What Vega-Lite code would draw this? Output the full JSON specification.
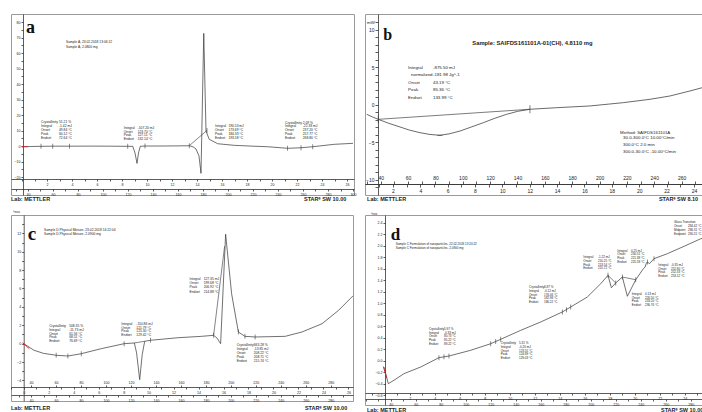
{
"$schema":"https://vega.github.io/schema/vega-lite/v6.json",
"padding":{"left":10,"top":13,"right":0,"bottom":0},
"background":"white",
"config":{"view":{"stroke":"#9a9a9a","strokeWidth":1},"font":"Liberation Sans",
"axis":{"labelFont":"Liberation Sans","labelFontSize":3.6,"labelColor":"#222","tickColor":"#333","domainColor":"#333","tickSize":2,"labelPadding":1,"grid":false,"domainWidth":0.8,"tickWidth":0.8,"labelOverlap":false,"labelFlush":false}},
"datasets":{
"a_curve":[{"T":35.0,"v":-0.45},{"T":42,"v":-0.3},{"T":50.4,"v":-0.19},{"T":60,"v":-0.1},{"T":74.4,"v":-0.1},{"T":90,"v":-0.05},{"T":105,"v":-0.1},{"T":119.8,"v":-0.19},{"T":123.8,"v":-0.19},{"T":125.6,"v":-4.5},{"T":127.2,"v":-11.2},{"T":128.4,"v":-4.5},{"T":129.8,"v":-0.19},{"T":133.6,"v":0},{"T":146.4,"v":0},{"T":160,"v":0.1},{"T":169.0,"v":0.19},{"T":172,"v":-0.5},{"T":174.4,"v":-1.94},{"T":176.8,"v":-6.45},{"T":178.4,"v":-17.6},{"T":180.6,"v":72.7},{"T":182.4,"v":9.68},{"T":185.0,"v":4.32},{"T":191.8,"v":1.48},{"T":205.0,"v":0.45},{"T":220,"v":-0.1},{"T":231.8,"v":-0.45},{"T":247.8,"v":-1.48},{"T":258.4,"v":-1.1},{"T":267.8,"v":-0.45},{"T":285.0,"v":1.1},{"T":300.0,"v":1.74}],
"a_red":[{"T":35.0,"v":-0.45},{"T":39.8,"v":-0.4}],
"a_base":[{"g":1,"T":169.0,"v":0.19},{"g":1,"T":183.2,"v":10.1}],
"a_ticks":[{"T":50.4,"v":-0.19},{"T":59.8,"v":-0.1},{"T":73.2,"v":-0.1},{"T":119.8,"v":-0.19},{"T":133.6,"v":0},{"T":169,"v":0.19},{"T":183.2,"v":10.1},{"T":247.7,"v":-1.45},{"T":258.4,"v":-1.1},{"T":267.8,"v":-0.45}],
"a_text":[{"T":70.4,"v":67.1,"s":"Sample A, 23.02.2018 13:06:12"},{"T":70.4,"v":64.2,"s":"Sample A, 2.0800 mg"},
{"T":50.4,"v":15.68,"s":"Crystallinity"},{"T":64.8,"v":15.68,"s":"51.21 %"},{"T":50.4,"v":12.9,"s":"Integral"},{"T":64.8,"v":12.9,"s":"-1.42 mJ"},{"T":50.4,"v":10.52,"s":"Onset"},{"T":64.8,"v":10.52,"s":"49.84 °C"},{"T":50.4,"v":7.94,"s":"Peak"},{"T":64.8,"v":7.94,"s":"60.12 °C"},{"T":50.4,"v":5.35,"s":"Endset"},{"T":64.8,"v":5.35,"s":"72.64 °C"},
{"T":116.6,"v":11.8,"s":"Integral"},{"T":127.7,"v":11.8,"s":"-107.20 mJ"},{"T":116.6,"v":9.2,"s":"Onset"},{"T":127.7,"v":9.2,"s":"123.70 °C"},{"T":116.6,"v":6.9,"s":"Peak"},{"T":127.7,"v":6.9,"s":"127.11 °C"},{"T":116.6,"v":4.3,"s":"Endset"},{"T":127.7,"v":4.3,"s":"132.14 °C"},
{"T":189.6,"v":12.9,"s":"Integral"},{"T":200.3,"v":12.9,"s":"190.53 mJ"},{"T":189.6,"v":10.5,"s":"Onset"},{"T":200.3,"v":10.5,"s":"173.69 °C"},{"T":189.6,"v":7.9,"s":"Peak"},{"T":200.3,"v":7.9,"s":"184.33 °C"},{"T":189.6,"v":5.4,"s":"Endset"},{"T":200.3,"v":5.4,"s":"193.58 °C"},
{"T":245.6,"v":15.0,"s":"Crystallinity"},{"T":259.8,"v":15.0,"s":"2.09 %"},{"T":245.6,"v":12.7,"s":"Integral"},{"T":259.8,"v":12.7,"s":"-22.33 mJ"},{"T":245.6,"v":10.3,"s":"Onset"},{"T":259.8,"v":10.3,"s":"237.20 °C"},{"T":245.6,"v":7.9,"s":"Peak"},{"T":259.8,"v":7.9,"s":"257.77 °C"},{"T":245.6,"v":5.4,"s":"Endset"},{"T":259.8,"v":5.4,"s":"268.80 °C"}],
"a_foot":[{"T":26.4,"v":-34.2,"s":"Lab: METTLER"},{"T":260.8,"v":-34.2,"s":"STARᵉ SW 10.00"}],
"b_curve":[{"T":29.8,"v":-1.24},{"T":34,"v":-1.6},{"T":38.2,"v":-1.91},{"T":46,"v":-2.45},{"T":54.1,"v":-2.93},{"T":61,"v":-3.35},{"T":68.7,"v":-3.69},{"T":76,"v":-3.93},{"T":83.3,"v":-4.04},{"T":90,"v":-3.85},{"T":98.0,"v":-3.47},{"T":106,"v":-2.95},{"T":115.0,"v":-2.36},{"T":123,"v":-1.8},{"T":132.1,"v":-1.24},{"T":140,"v":-0.85},{"T":149.1,"v":-0.57},{"T":168.7,"v":-0.36},{"T":193,"v":-0.13},{"T":217.3,"v":0.31},{"T":236.9,"v":0.76},{"T":251.5,"v":1.2},{"T":266.1,"v":1.87},{"T":277,"v":2.4}],
"b_base":[{"g":1,"T":38.2,"v":-1.91},{"g":1,"T":149.1,"v":-0.57}],
"b_ticks":[{"T":38.2,"v":-1.91},{"T":149.1,"v":-0.57}],
"b_text":[{"T":60,"v":4.97,"s":"Integral"},{"T":78.2,"v":4.97,"s":"-875.50 mJ"},{"T":62.2,"v":4.0,"s":"normalized"},{"T":78.2,"v":4.0,"s":"-181.98 Jg^-1"},{"T":60,"v":2.97,"s":"Onset"},{"T":78.2,"v":2.97,"s":"43.19 °C"},{"T":60,"v":1.96,"s":"Peak"},{"T":78.2,"v":1.96,"s":"85.36 °C"},{"T":60,"v":0.89,"s":"Endset"},{"T":78.2,"v":0.89,"s":"133.99 °C"},
{"T":215,"v":-3.69,"s":"Method: SAIFDS161101A"},{"T":217.2,"v":-4.44,"s":"30.0-300.0°C 10.00°C/min"},{"T":217.2,"v":-5.33,"s":"300.0°C 2.0 min"},{"T":217.2,"v":-6.23,"s":"300.0-30.0°C -10.00°C/min"},{"T":30,"v":10.9,"s":"mW"}],
"b_foot":[{"T":30,"v":-12.53,"s":"Lab: METTLER"},{"T":243.4,"v":-12.53,"s":"STARᵉ SW 8.10"}],
"c_curve":[{"T":33.3,"v":0.08},{"T":42.4,"v":-0.72},{"T":50,"v":-1.05},{"T":60.1,"v":-1.26},{"T":69.5,"v":-1.34},{"T":80.2,"v":-1.09},{"T":96.2,"v":-0.54},{"T":114.5,"v":0},{"T":122.7,"v":0.08},{"T":124.5,"v":-1.0},{"T":127.0,"v":-3.91},{"T":129,"v":-1.2},{"T":131.0,"v":0.26},{"T":135.6,"v":0.37},{"T":157.8,"v":0.65},{"T":176.5,"v":0.8},{"T":186.2,"v":0.91},{"T":189,"v":0.6},{"T":191.8,"v":0},{"T":195.8,"v":11.9},{"T":200.6,"v":5.43},{"T":206.0,"v":1.27},{"T":211.3,"v":0.8},{"T":219.4,"v":0.73},{"T":243.5,"v":0.8},{"T":256.9,"v":1.27},{"T":273.0,"v":2.17},{"T":286.3,"v":3.63},{"T":297.8,"v":5.2}],
"c_red":[{"T":33.3,"v":0.08},{"T":38.6,"v":-0.54}],
"c_base":[{"g":1,"T":186.2,"v":0.91},{"g":1,"T":195.0,"v":10.6},{"g":2,"T":122.7,"v":0.08},{"g":2,"T":131.0,"v":0.26}],
"c_ticks":[{"T":60.1,"v":-1.26},{"T":69.5,"v":-1.34},{"T":80.2,"v":-1.09},{"T":114.5,"v":0},{"T":135.6,"v":0.37},{"T":186.2,"v":0.91},{"T":206,"v":1.27},{"T":211.3,"v":0.8},{"T":219.4,"v":0.73}],
"c_text":[{"T":25.5,"v":14.3,"s":"^exo"},{"T":50.4,"v":12.39,"s":"Sample D Physical Mixture, 23.02.2018 14:22:04"},{"T":50.4,"v":11.96,"s":"Sample D Physical Mixture, 2.0900 mg"},
{"T":54.5,"v":1.92,"s":"Crystallinity"},{"T":70.5,"v":1.92,"s":"508.35 %"},{"T":54.5,"v":1.51,"s":"Integral"},{"T":70.5,"v":1.51,"s":"-11.73 mJ"},{"T":54.5,"v":1.1,"s":"Onset"},{"T":70.5,"v":1.1,"s":"61.56 °C"},{"T":54.5,"v":0.68,"s":"Peak"},{"T":70.5,"v":0.68,"s":"68.51 °C"},{"T":54.5,"v":0.27,"s":"Endset"},{"T":70.5,"v":0.27,"s":"76.69 °C"},
{"T":112.3,"v":2.17,"s":"Integral"},{"T":124.3,"v":2.17,"s":"-110.86 mJ"},{"T":112.3,"v":1.76,"s":"Onset"},{"T":124.3,"v":1.76,"s":"121.79 °C"},{"T":112.3,"v":1.35,"s":"Peak"},{"T":124.3,"v":1.35,"s":"125.30 °C"},{"T":112.3,"v":0.93,"s":"Endset"},{"T":124.3,"v":0.93,"s":"129.42 °C"},
{"T":166.9,"v":7.07,"s":"Integral"},{"T":178.2,"v":7.07,"s":"127.35 mJ"},{"T":166.9,"v":6.6,"s":"Onset"},{"T":178.2,"v":6.6,"s":"199.68 °C"},{"T":166.9,"v":6.13,"s":"Peak"},{"T":178.2,"v":6.13,"s":"206.92 °C"},{"T":166.9,"v":5.66,"s":"Endset"},{"T":178.2,"v":5.66,"s":"214.88 °C"},
{"T":204.7,"v":-0.14,"s":"Crystallinity"},{"T":218.3,"v":-0.14,"s":"843.28 %"},{"T":204.7,"v":-0.58,"s":"Integral"},{"T":218.3,"v":-0.58,"s":"-13.85 mJ"},{"T":204.7,"v":-1.01,"s":"Onset"},{"T":218.3,"v":-1.01,"s":"208.22 °C"},{"T":204.7,"v":-1.45,"s":"Peak"},{"T":218.3,"v":-1.45,"s":"208.71 °C"},{"T":204.7,"v":-1.88,"s":"Endset"},{"T":218.3,"v":-1.88,"s":"215.74 °C"}],
"c_foot":[{"T":23.94,"v":-6.99,"s":"Lab: METTLER"},{"T":259.3,"v":-6.99,"s":"STARᵉ SW 10.00"}],
"d_curve":[{"T":34.6,"v":-0.108},{"T":38.1,"v":-0.398},{"T":42.6,"v":-0.339},{"T":50.6,"v":-0.224},{"T":64.0,"v":-0.108},{"T":78.6,"v":0.054},{"T":86.6,"v":0.083},{"T":104.0,"v":0.183},{"T":120.0,"v":0.297},{"T":128.0,"v":0.374},{"T":144.0,"v":0.53},{"T":160.0,"v":0.675},{"T":177.3,"v":0.849},{"T":184.0,"v":0.936},{"T":197.3,"v":1.11},{"T":208.0,"v":1.341},{"T":213.8,"v":1.487},{"T":216.5,"v":1.271},{"T":220.0,"v":1.353},{"T":225.3,"v":1.457},{"T":229.3,"v":1.122},{"T":236.0,"v":1.41},{"T":242.1,"v":1.602},{"T":243.5,"v":1.63},{"T":244.5,"v":1.7},{"T":245.3,"v":1.718},{"T":247,"v":1.69},{"T":250.6,"v":1.776},{"T":261.3,"v":1.863},{"T":274.6,"v":1.991},{"T":288.0,"v":2.123},{"T":291.4,"v":2.141}],
"d_red":[{"T":34.1,"v":-0.1},{"T":36.8,"v":-0.3}],
"d_base":[{"g":1,"T":213.8,"v":1.487},{"g":1,"T":220.0,"v":1.353},{"g":2,"T":225.3,"v":1.457},{"g":2,"T":236.0,"v":1.41}],
"d_ticks":[{"T":78.6,"v":0.054},{"T":82.6,"v":0.07},{"T":86.6,"v":0.083},{"T":120,"v":0.297},{"T":124,"v":0.335},{"T":128,"v":0.374},{"T":177.3,"v":0.849},{"T":180.6,"v":0.89},{"T":184,"v":0.936},{"T":213.8,"v":1.487},{"T":220,"v":1.353},{"T":225.3,"v":1.457},{"T":236,"v":1.41},{"T":245.3,"v":1.718},{"T":250.6,"v":1.776}],
"d_text":[{"T":24.2,"v":2.562,"s":"^exo"},{"T":44,"v":2.037,"s":"Sample C Formulation of nanoparticles, 22.02.2018 13:20:22"},{"T":44,"v":1.974,"s":"Sample C Formulation of nanoparticles, 2.0900 mg"},
{"T":70.6,"v":0.558,"s":"Crystallinity"},{"T":82.6,"v":0.558,"s":"5.97 %"},{"T":70.6,"v":0.496,"s":"Integral"},{"T":82.6,"v":0.496,"s":"-0.33 mJ"},{"T":70.6,"v":0.431,"s":"Onset"},{"T":82.6,"v":0.431,"s":"80.73 °C"},{"T":70.6,"v":0.367,"s":"Peak"},{"T":82.6,"v":0.367,"s":"85.22 °C"},{"T":70.6,"v":0.304,"s":"Endset"},{"T":82.6,"v":0.304,"s":"89.22 °C"},
{"T":128,"v":0.31,"s":"Crystallinity"},{"T":142.6,"v":0.31,"s":"5.31 %"},{"T":128,"v":0.245,"s":"Integral"},{"T":142.6,"v":0.245,"s":"-0.20 mJ"},{"T":128,"v":0.181,"s":"Onset"},{"T":142.6,"v":0.181,"s":"123.55 °C"},{"T":128,"v":0.117,"s":"Peak"},{"T":142.6,"v":0.117,"s":"124.89 °C"},{"T":128,"v":0.052,"s":"Endset"},{"T":142.6,"v":0.052,"s":"129.03 °C"},
{"T":150.6,"v":1.283,"s":"Crystallinity"},{"T":162.6,"v":1.283,"s":"6.87 %"},{"T":150.6,"v":1.219,"s":"Integral"},{"T":162.6,"v":1.219,"s":"-0.12 mJ"},{"T":150.6,"v":1.155,"s":"Onset"},{"T":162.6,"v":1.155,"s":"176.06 °C"},{"T":150.6,"v":1.09,"s":"Peak"},{"T":162.6,"v":1.09,"s":"182.98 °C"},{"T":150.6,"v":1.026,"s":"Endset"},{"T":162.6,"v":1.026,"s":"186.22 °C"},
{"T":194.1,"v":1.805,"s":"Integral"},{"T":205.8,"v":1.805,"s":"-1.22 mJ"},{"T":194.1,"v":1.741,"s":"Onset"},{"T":205.8,"v":1.741,"s":"210.25 °C"},{"T":194.1,"v":1.677,"s":"Peak"},{"T":205.8,"v":1.677,"s":"213.54 °C"},{"T":194.1,"v":1.612,"s":"Endset"},{"T":205.8,"v":1.612,"s":"215.72 °C"},
{"T":221.3,"v":1.922,"s":"Integral"},{"T":232.2,"v":1.922,"s":"0.25 mJ"},{"T":221.3,"v":1.857,"s":"Onset"},{"T":232.2,"v":1.857,"s":"230.51 °C"},{"T":221.3,"v":1.793,"s":"Peak"},{"T":232.2,"v":1.793,"s":"221.38 °C"},{"T":221.3,"v":1.729,"s":"Endset"},{"T":232.2,"v":1.729,"s":"225.58 °C"},
{"T":232.8,"v":1.167,"s":"Integral"},{"T":243.4,"v":1.167,"s":"0.13 mJ"},{"T":232.8,"v":1.103,"s":"Onset"},{"T":243.4,"v":1.103,"s":"226.50 °C"},{"T":232.8,"v":1.038,"s":"Peak"},{"T":243.4,"v":1.038,"s":"233.20 °C"},{"T":232.8,"v":0.974,"s":"Endset"},{"T":243.4,"v":0.974,"s":"236.76 °C"},
{"T":254.1,"v":1.675,"s":"Integral"},{"T":264.2,"v":1.675,"s":"-0.35 mJ"},{"T":254.1,"v":1.61,"s":"Onset"},{"T":264.2,"v":1.61,"s":"252.80 °C"},{"T":254.1,"v":1.546,"s":"Peak"},{"T":264.2,"v":1.546,"s":"252.33 °C"},{"T":254.1,"v":1.482,"s":"Endset"},{"T":264.2,"v":1.482,"s":"253.12 °C"},
{"T":266.6,"v":2.423,"s":"Glass Transition"},{"T":266.6,"v":2.353,"s":"Onset"},{"T":277.8,"v":2.353,"s":"284.42 °C"},{"T":266.6,"v":2.283,"s":"Midpoint"},{"T":277.8,"v":2.283,"s":"286.31 °C"},{"T":266.6,"v":2.214,"s":"Endpoint"},{"T":277.8,"v":2.214,"s":"290.15 °C"}],
"d_foot":[{"T":21.04,"v":-0.85,"s":"Lab: METTLER"},{"T":256.2,"v":-0.85,"s":"STARᵉ SW 10.00"}]
},
"columns":2,
"spacing":{"row":20,"column":11},
"bounds":"flush",
"concat":[
 {"width":343,"height":181,
  "encoding":{
    "x":{"field":"T","type":"quantitative","scale":{"domain":[26.4,300.8],"nice":false,"zero":false},"axis":null},
    "y":{"field":"v","type":"quantitative","scale":{"domain":[-31.6,85.2],"nice":false,"zero":false},"axis":{"orient":"left","offset":-12,"title":null,"values":[-20,-15,-10,-5,0,5,10,15,20,25,30,35,40,45,50,55,60,65,70,75,80],"labelExpr":"datum.value % 10 === 0 ? datum.label : ''"}}},
  "layer":[
   {"data":{"name":"a_curve"},"mark":{"type":"line","color":"#333","strokeWidth":0.7},
    "encoding":{"x":{"field":"T","type":"quantitative","scale":{"domain":[26.4,300.8],"nice":false,"zero":false},"axis":{"orient":"bottom","offset":-6,"title":null,"values":[30,40,50,60,70,80,90,100,110,120,130,140,150,160,170,180,190,200,210,220,230,240,250,260,270,280,290,300],"labelExpr":"datum.value % 20 === 0 ? datum.label : ''"}}}},
   {"data":{"name":"a_red"},"mark":{"type":"line","color":"#e02020","strokeWidth":0.9}},
   {"data":{"name":"a_base"},"mark":{"type":"line","color":"#333","strokeWidth":0.6},"encoding":{"detail":{"field":"g"}}},
   {"data":{"name":"a_ticks"},"mark":{"type":"tick","orient":"vertical","color":"#333","size":5,"thickness":0.8}},
   {"data":{"name":"a_text"},"mark":{"type":"text","align":"left","baseline":"middle","fontSize":3.3,"color":"#222"},"encoding":{"text":{"field":"s"}}},
   {"data":{"values":[{"T":38.4,"v":73.1,"s":"a"}]},"mark":{"type":"text","align":"left","baseline":"alphabetic","fontSize":18,"font":"Liberation Serif","fontWeight":"bold","color":"#111"},"encoding":{"text":{"field":"s"}}},
   {"data":{"name":"a_foot"},"mark":{"type":"text","align":"left","baseline":"middle","fontSize":5.5,"fontWeight":"bold","color":"#222"},"encoding":{"text":{"field":"s"}}},
   {"data":{"values":[{"t":0,"v":0}]},"mark":{"type":"point","opacity":0},
    "encoding":{"x":{"field":"t","type":"quantitative","scale":{"domain":[-0.88,26.56],"nice":false,"zero":false},"axis":{"orient":"bottom","offset":-16,"title":null,"values":[0,1,2,3,4,5,6,7,8,9,10,11,12,13,14,15,16,17,18,19,20,21,22,23,24,25,26],"labelExpr":"datum.value % 2 === 0 && datum.value > 0 ? datum.label : ''"}}}}
  ],
  "resolve":{"scale":{"x":"independent"},"axis":{"x":"independent"}}},
 {"width":340,"height":181,
  "encoding":{
    "x":{"field":"T","type":"quantitative","scale":{"domain":[28.5,277.1],"nice":false,"zero":false},"axis":null},
    "y":{"field":"v","type":"quantitative","scale":{"domain":[-12,12.13],"nice":false,"zero":false},"axis":{"orient":"left","offset":-13,"title":null,"labelFontSize":5,"tickSize":3,"values":[-11,-10,-9,-8,-7,-6,-5,-4,-3,-2,-1,0,1,2,3,4,5,6,7,8,9,10,11],"labelExpr":"datum.value % 5 === 0 ? datum.label : ''"}}},
  "layer":[
   {"data":{"name":"b_curve"},"mark":{"type":"line","color":"#444","strokeWidth":0.8},
    "encoding":{"x":{"field":"T","type":"quantitative","scale":{"domain":[28.5,277.1],"nice":false,"zero":false},"axis":{"orient":"top","offset":-170,"title":null,"labelFontSize":5,"tickSize":3,"values":[30,40,50,60,70,80,90,100,110,120,130,140,150,160,170,180,190,200,210,220,230,240,250,260,270],"labelExpr":"datum.value % 20 === 0 ? datum.label : ''"}}}},
   {"data":{"name":"b_base"},"mark":{"type":"line","color":"#444","strokeWidth":0.7},"encoding":{"detail":{"field":"g"}}},
   {"data":{"name":"b_ticks"},"mark":{"type":"tick","orient":"vertical","color":"#333","size":8,"thickness":0.9}},
   {"data":{"values":[{"T":83.3,"v":-4.04}]},"mark":{"type":"tick","orient":"horizontal","color":"#333","size":5,"thickness":0.9}},
   {"data":{"name":"b_text"},"mark":{"type":"text","align":"left","baseline":"middle","fontSize":4.4,"color":"#222"},"encoding":{"text":{"field":"s"}}},
   {"data":{"values":[{"T":150.9,"v":8.31,"s":"Sample: SAIFDS161101A-01(CH), 4.8110 mg"}]},"mark":{"type":"text","align":"center","baseline":"middle","fontSize":5.8,"fontWeight":"bold","color":"#222"},"encoding":{"text":{"field":"s"}}},
   {"data":{"values":[{"T":41.9,"v":8.63,"s":"b"}]},"mark":{"type":"text","align":"left","baseline":"alphabetic","fontSize":16,"font":"Liberation Serif","fontWeight":"bold","color":"#111"},"encoding":{"text":{"field":"s"}}},
   {"data":{"name":"b_foot"},"mark":{"type":"text","align":"left","baseline":"middle","fontSize":5.5,"fontWeight":"bold","color":"#222"},"encoding":{"text":{"field":"s"}}},
   {"data":{"values":[{"t":0,"v":0}]},"mark":{"type":"point","opacity":0},
    "encoding":{"x":{"field":"t","type":"quantitative","scale":{"domain":[-0.04,24.81],"nice":false,"zero":false},"axis":{"orient":"bottom","offset":-11,"title":null,"labelFontSize":5,"tickSize":3,"values":[1,2,3,4,5,6,7,8,9,10,11,12,13,14,15,16,17,18,19,20,21,22,23,24],"labelExpr":"datum.value % 2 === 0 ? datum.label : ''"}}}}
  ],
  "resolve":{"scale":{"x":"independent"},"axis":{"x":"independent"}}},
 {"width":342,"height":186,
  "encoding":{
    "x":{"field":"T","type":"quantitative","scale":{"domain":[23.94,297.8],"nice":false,"zero":false},"axis":null},
    "y":{"field":"v","type":"quantitative","scale":{"domain":[-6.23,13.99],"nice":false,"zero":false},"axis":{"orient":"left","offset":-12.7,"title":null,"values":[-4,-3,-2,-1,0,1,2,3,4,5,6,7,8,9,10,11,12,13],"labelExpr":"datum.value % 2 === 0 ? datum.label : ''"}}},
  "layer":[
   {"data":{"name":"c_curve"},"mark":{"type":"line","color":"#333","strokeWidth":0.7},
    "encoding":{"x":{"field":"T","type":"quantitative","scale":{"domain":[23.94,297.8],"nice":false,"zero":false},"axis":{"orient":"bottom","offset":-6,"title":null,"values":[30,40,50,60,70,80,90,100,110,120,130,140,150,160,170,180,190,200,210,220,230,240,250,260,270,280,290],"labelExpr":"datum.value % 20 === 0 ? datum.label : ''"}}}},
   {"data":{"name":"c_red"},"mark":{"type":"line","color":"#e02020","strokeWidth":0.9}},
   {"data":{"name":"c_base"},"mark":{"type":"line","color":"#333","strokeWidth":0.6},"encoding":{"detail":{"field":"g"}}},
   {"data":{"name":"c_ticks"},"mark":{"type":"tick","orient":"vertical","color":"#333","size":5,"thickness":0.8}},
   {"data":{"name":"c_text"},"mark":{"type":"text","align":"left","baseline":"middle","fontSize":3.3,"color":"#222"},"encoding":{"text":{"field":"s"}}},
   {"data":{"values":[{"T":37.3,"v":11.3,"s":"c"}]},"mark":{"type":"text","align":"left","baseline":"alphabetic","fontSize":19,"font":"Liberation Serif","fontWeight":"bold","color":"#111"},"encoding":{"text":{"field":"s"}}},
   {"data":{"name":"c_foot"},"mark":{"type":"text","align":"left","baseline":"middle","fontSize":5.5,"fontWeight":"bold","color":"#222"},"encoding":{"text":{"field":"s"}}},
   {"data":{"values":[{"t":0,"v":0}]},"mark":{"type":"point","opacity":0},
    "encoding":{"x":{"field":"t","type":"quantitative","scale":{"domain":[-1.02,26.37],"nice":false,"zero":false},"axis":{"orient":"bottom","offset":-14,"title":null,"values":[-1,0,1,2,3,4,5,6,7,8,9,10,11,12,13,14,15,16,17,18,19,20,21,22,23,24,25,26],"labelExpr":"datum.value % 2 === 0 ? datum.label : ''"}}}},
   {"data":{"values":[{"T2":40,"v":0}]},"mark":{"type":"point","opacity":0},
    "encoding":{"x":{"field":"T2","type":"quantitative","scale":{"domain":[23.94,297.8],"nice":false,"zero":false},"axis":{"orient":"top","offset":-172,"title":null,"domain":false,"values":[40,60,80,100,120,140,160,180,200,220,240,260,280]}}}}
  ],
  "resolve":{"scale":{"x":"independent"},"axis":{"x":"independent"}}},
 {"width":340,"height":190,
  "encoding":{
    "x":{"field":"T","type":"quantitative","scale":{"domain":[19.44,291.4],"nice":false,"zero":false},"axis":null},
    "y":{"field":"v","type":"quantitative","scale":{"domain":[-0.769,2.536],"nice":false,"zero":false},"axis":{"orient":"left","offset":-20,"title":null,"format":".1f","values":[-0.6,-0.4,-0.2,0,0.2,0.4,0.6,0.8,1.0,1.2,1.4,1.6,1.8,2.0,2.2,2.4]}}},
  "layer":[
   {"data":{"name":"d_curve"},"mark":{"type":"line","color":"#333","strokeWidth":0.7},
    "encoding":{"x":{"field":"T","type":"quantitative","scale":{"domain":[19.44,291.4],"nice":false,"zero":false},"axis":{"orient":"bottom","offset":-6,"title":null,"values":[20,30,40,50,60,70,80,90,100,110,120,130,140,150,160,170,180,190,200,210,220,230,240,250,260,270,280,290],"labelExpr":"datum.value % 20 === 0 && datum.value >= 40 ? datum.label : ''"}}}},
   {"data":{"name":"d_red"},"mark":{"type":"line","color":"#e02020","strokeWidth":0.9}},
   {"data":{"name":"d_base"},"mark":{"type":"line","color":"#333","strokeWidth":0.6},"encoding":{"detail":{"field":"g"}}},
   {"data":{"name":"d_ticks"},"mark":{"type":"tick","orient":"vertical","color":"#333","size":5,"thickness":0.8}},
   {"data":{"name":"d_text"},"mark":{"type":"text","align":"left","baseline":"middle","fontSize":3.0,"color":"#222"},"encoding":{"text":{"field":"s"}}},
   {"data":{"values":[{"T":40,"v":2.096,"s":"d"}]},"mark":{"type":"text","align":"left","baseline":"alphabetic","fontSize":17,"font":"Liberation Serif","fontWeight":"bold","color":"#111"},"encoding":{"text":{"field":"s"}}},
   {"data":{"name":"d_foot"},"mark":{"type":"text","align":"left","baseline":"middle","fontSize":5.5,"fontWeight":"bold","color":"#222"},"encoding":{"text":{"field":"s"}}},
   {"data":{"values":[{"t":0,"v":0}]},"mark":{"type":"point","opacity":0},
    "encoding":{"x":{"field":"t","type":"quantitative","scale":{"domain":[-1.576,25.62],"nice":false,"zero":false},"axis":{"orient":"bottom","offset":-12,"title":null,"values":[-1,0,1,2,3,4,5,6,7,8,9,10,11,12,13,14,15,16,17,18,19,20,21,22,23,24,25],"labelExpr":"datum.value % 2 === 0 && datum.value > 0 ? datum.label : ''"}}}}
  ],
  "resolve":{"scale":{"x":"independent"},"axis":{"x":"independent"}}}
]
}
